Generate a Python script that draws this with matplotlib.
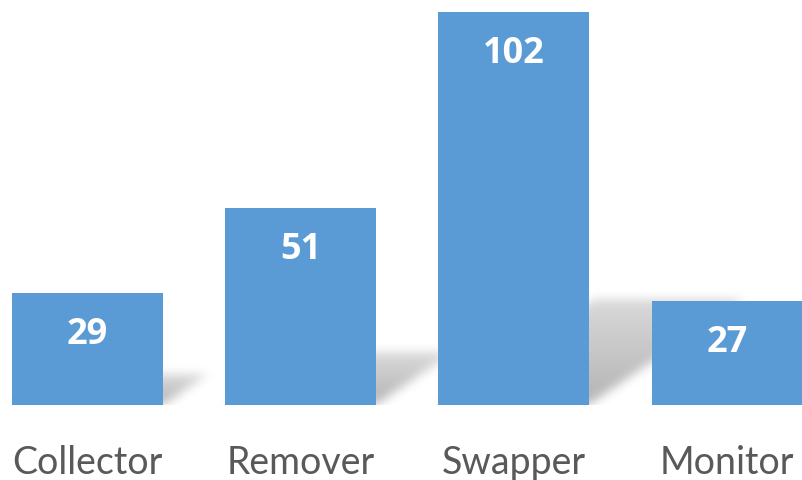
import numpy as np
import matplotlib.pyplot as plt
from matplotlib.path import Path
import matplotlib.transforms as mtransforms

categories = ["Collector", "Remover", "Swapper", "Monitor"]
counts = [29, 51, 102, 27]

bar_color = "#5B9BD5"
bar_width = 0.708


def gaussian_blur(img, sigma):
    r = int(3 * sigma)
    k = np.exp(-0.5 * (np.arange(-r, r + 1) / sigma) ** 2)
    k /= k.sum()
    img = np.apply_along_axis(lambda v: np.convolve(v, k, mode="same"), 0, img)
    img = np.apply_along_axis(lambda v: np.convolve(v, k, mode="same"), 1, img)
    return img


fig = plt.figure(figsize=(8.02, 4.81), dpi=100)
ax = fig.add_axes([0, 75 / 481, 1, 406 / 481])

px_per_unit = 3.853
xlim = (-87.5 / 213.17, -87.5 / 213.17 + 802 / 213.17)
ylim = (0, 406 / px_per_unit)
ax.set_xlim(*xlim)
ax.set_ylim(*ylim)

# soft drop shadows behind the bars
nx, ny = 802, 406
xs = np.linspace(xlim[0], xlim[1], nx)
ys = np.linspace(ylim[0], ylim[1], ny)
gx, gy = np.meshgrid(xs, ys)
pts = np.column_stack([gx.ravel(), gy.ravel()])
shade = np.zeros(gx.shape)
k_h, s_x = 0.27, 0.0072
for i, v in enumerate(counts):
    left, right = i - bar_width / 2, i + bar_width / 2
    top = k_h * v
    shift = s_x * v
    poly = Path([(left, 0), (right, 0), (right + shift, top), (left + shift, top)])
    m = poly.contains_points(pts).reshape(gx.shape).astype(float)
    fade = np.clip(1 - 0.5 * gy / max(top, 1e-6), 0, 1)
    shade = np.maximum(shade, m * fade)
shade = gaussian_blur(shade, 5)
rgba = np.zeros((ny, nx, 4))
rgba[..., 3] = shade * 0.3
ax.imshow(rgba, extent=(xlim[0], xlim[1], ylim[0], ylim[1]), origin="lower",
          aspect="auto", zorder=1, interpolation="bilinear")

x = np.arange(len(categories))
ax.bar(x, counts, width=bar_width, color=bar_color, zorder=2)

for xi, v in zip(x, counts):
    ax.text(xi, v - 41 / px_per_unit, str(v), ha="center", va="center", color="white",
            fontsize=26, fontweight="bold", family="Open Sans", zorder=3)

trans = mtransforms.blended_transform_factory(ax.transData, ax.transAxes)
for xi, name in zip(x, categories):
    ax.text(xi, -68 / 406, name, ha="center", va="baseline", color="#595959",
            fontsize=27, family="Lato", transform=trans)

ax.axis("off")
fig.savefig("out.png", dpi=100)
